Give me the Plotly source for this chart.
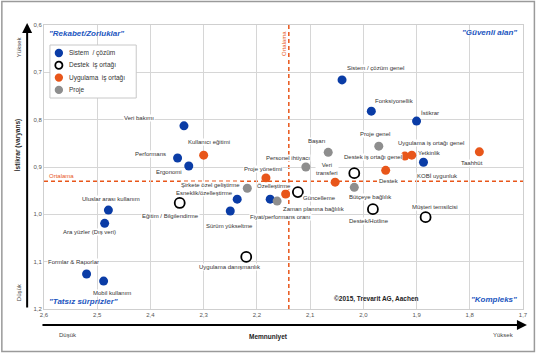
import plotly.graph_objects as go

# ---------------- data ----------------
x_ticks = [2.6, 2.5, 2.4, 2.3, 2.2, 2.1, 2.0, 1.9, 1.8, 1.7]
x_ticktext = ["2,6", "2,5", "2,4", "2,3", "2,2", "2,1", "2,0", "1,9", "1,8", "1,7"]
y_ticks = [0.6, 0.7, 0.8, 0.9, 1.0, 1.1, 1.2]
y_ticktext = ["0,6", "0,7", "0,8", "0,9", "1,0", "1,1", "1,2"]

sistem_names = ["Sistem / çözüm genel", "Fonksiyonellik", "İstikrar", "KOBİ uygunluk",
                "Veri bakımı", "Performans", "Ergonomi", "Uluslar arası kullanım",
                "Ara yüzler (Dış veri)", "Formlar & Raporlar", "Mobil kullanım",
                "Esneklik/özelleştirme", "Sürüm yükseltme", "Fiyat/performans oranı"]
sistem_x = [2.04, 1.985, 1.90, 1.887, 2.337, 2.349, 2.328, 2.479, 2.486, 2.52, 2.488, 2.237, 2.25, 2.175]
sistem_y = [0.716, 0.782, 0.803, 0.89, 0.813, 0.881, 0.898, 0.991, 1.019, 1.126, 1.141, 0.968, 0.993, 0.968]

uyg_names = ["Kullanıcı eğitimi", "Proje yönetimi", "Özelleştirme", "Veri<br>transferi",
             "Destek", "Uygulama iş ortağı genel", "Yetkinlik", "Taahhüt"]
uyg_x = [2.30, 2.183, 2.146, 2.053, 1.958, 1.922, 1.909, 1.782]
uyg_y = [0.875, 0.923, 0.957, 0.932, 0.907, 0.877, 0.875, 0.868]

proje_names = ["Başarı", "Personel ihtiyacı", "Proje genel", "Şirkete özel geliştirme",
               "Zaman planına bağlılık", "Bütçeye bağlılık"]
proje_x = [2.066, 2.108, 1.971, 2.218, 2.162, 2.017]
proje_y = [0.869, 0.90, 0.856, 0.945, 0.972, 0.943]

destek_names = ["Eğitim / Bilgilendirme", "Güncelleme", "Destek iş ortağı genel",
                "Destek/Hotline", "Müşteri temsilcisi", "Uygulama danışmanlık"]
destek_x = [2.345, 2.123, 2.017, 1.982, 1.883, 2.22]
destek_y = [0.976, 0.953, 0.913, 0.989, 1.006, 1.09]

avg_x = 2.14
avg_y = 0.93

legend_names = ["Sistem  / çözüm", "Destek  iş ortağı", "Uygulama  iş ortağı", "Proje"]

# ---------------- styles / label offsets (pixels: dx right, dy down) ----------------
label_offsets = {
    "Sistem / çözüm genel": (33, -12), "Fonksiyonellik": (23, -10), "İstikrar": (13, -8),
    "KOBİ uygunluk": (14, 14), "Veri bakımı": (-45, -8), "Performans": (-27, -4),
    "Ergonomi": (-20, 6), "Uluslar arası kullanım": (3, -11), "Ara yüzler (Dış veri)": (-15, 9),
    "Formlar & Raporlar": (-13, -12), "Mobil kullanım": (8, 12), "Esneklik/özelleştirme": (-33, -6),
    "Sürüm yükseltme": (-1, 15), "Fiyat/performans oranı": (10, 18),
    "Kullanıcı eğitimi": (5, -13), "Proje yönetimi": (-3, -9), "Özelleştirme": (-12, -8),
    "Veri<br>transferi": (-8, -13), "Destek": (3, 11), "Uygulama iş ortağı genel": (26, -13),
    "Yetkinlik": (18, -2), "Taahhüt": (-7, 11),
    "Başarı": (-11, -11), "Personel ihtiyacı": (-18, -9), "Proje genel": (-4, -12),
    "Şirkete özel geliştirme": (-37, -3), "Zaman planına bağlılık": (37, 8),
    "Bütçeye bağlılık": (16, 10),
    "Eğitim / Bilgilendirme": (-9, 13), "Güncelleme": (22, 6), "Destek iş ortağı genel": (19, -16),
    "Destek/Hotline": (-4, 12), "Müşteri temsilcisi": (9, -10), "Uygulama danışmanlık": (-16, 10),
}

BLUE = "#0a3ca6"
ORANGE = "#e8561a"
GRAY = "#8e8e8e"
QBLUE = "#2155c0"
FONT = "Liberation Sans, Arial, sans-serif"

W, H = 540, 353
L, R, T, B = 44, 13, 25, 44
PW, PH = W - L - R, H - T - B


def pp(xp, yp):
    return (xp - L) / PW, (H - B - yp) / PH


fig = go.Figure()

fig.add_trace(go.Scatter(x=sistem_x, y=sistem_y, mode="markers", name="Sistem / çözüm",
                         marker=dict(size=9, color=BLUE), showlegend=False))
fig.add_trace(go.Scatter(x=destek_x, y=destek_y, mode="markers", name="Destek iş ortağı",
                         marker=dict(size=10, color="white", line=dict(color="black", width=1.8)),
                         showlegend=False))
fig.add_trace(go.Scatter(x=uyg_x, y=uyg_y, mode="markers", name="Uygulama iş ortağı",
                         marker=dict(size=9, color=ORANGE), showlegend=False))
fig.add_trace(go.Scatter(x=proje_x, y=proje_y, mode="markers", name="Proje",
                         marker=dict(size=9, color=GRAY), showlegend=False))

annotations = []
for names, xs, ys in [(sistem_names, sistem_x, sistem_y), (uyg_names, uyg_x, uyg_y),
                      (proje_names, proje_x, proje_y), (destek_names, destek_x, destek_y)]:
    for n, xv, yv in zip(names, xs, ys):
        dx, dy = label_offsets[n]
        annotations.append(dict(x=xv, y=yv, xref="x", yref="y", text=n, showarrow=False,
                                xshift=dx, yshift=-dy, bgcolor="white", borderpad=0,
                                font=dict(size=6, color="#333333", family=FONT)))


def txt(xp, yp, text, size=6, color="#333333", angle=0, bold=False, italic=False, xanchor="center"):
    x, y = pp(xp, yp)
    t = text
    if bold:
        t = "<b>" + t + "</b>"
    if italic:
        t = "<i>" + t + "</i>"
    annotations.append(dict(x=x, y=y, xref="paper", yref="paper", text=t, showarrow=False,
                            textangle=angle, xanchor=xanchor, yanchor="middle",
                            font=dict(size=size, color=color, family=FONT)))


# quadrant labels
txt(87, 34, "\"Rekabet/Zorluklar\"", size=8, color=QBLUE, bold=True, italic=True)
txt(493, 33, "\"Güvenli alan\"", size=8, color=QBLUE, bold=True, italic=True)
txt(84, 301, "\"Tatsız sürprizler\"", size=8, color=QBLUE, bold=True, italic=True)
txt(498, 299, "\"Kompleks\"", size=8, color=QBLUE, bold=True, italic=True)
txt(379, 299, "©2015, Trevarit AG, Aachen", size=6.5, color="#222222", bold=True)

# axis texts
txt(18, 145, "İstikrar (varyans)", size=6.5, color="#222222", angle=-90, bold=True)
txt(19, 47, "Yüksek", size=6, color="#444444", angle=-90)
txt(19, 292, "Düşük", size=6, color="#444444", angle=-90)
txt(270, 337, "Memnuniyet", size=6.5, color="#222222", bold=True)
txt(68, 335, "Düşük", size=6, color="#444444")
txt(507, 335, "Yüksek", size=6, color="#444444")

# Ortalama labels
txt(286, 43, "Ortalama", size=6, color=ORANGE, angle=-90)
txt(47, 176, "Ortalama", size=6, color=ORANGE, xanchor="left")

# axis arrows
hx, hy = pp(27, 23)
annotations.append(dict(x=hx, y=hy, xref="paper", yref="paper", text="", showarrow=True,
                        ax=0, ay=286, arrowhead=2, arrowsize=1, arrowwidth=2,
                        arrowcolor="black", standoff=0))
hx, hy = pp(531, 325)
annotations.append(dict(x=hx, y=hy, xref="paper", yref="paper", text="", showarrow=True,
                        ax=-486, ay=0, arrowhead=2, arrowsize=1, arrowwidth=2,
                        arrowcolor="black", standoff=0))

shapes = []
# average lines
shapes.append(dict(type="line", xref="x", yref="paper", x0=avg_x, x1=avg_x, y0=0, y1=1,
                   line=dict(color=ORANGE, width=1.5, dash="4px,3px"), layer="below"))
shapes.append(dict(type="line", xref="paper", yref="y", x0=0, x1=1, y0=avg_y, y1=avg_y,
                   line=dict(color=ORANGE, width=1.5, dash="4px,3px"), layer="below"))

# outer border
x0, y0 = pp(1.5, 351.5)
x1, y1 = pp(538.5, 1.5)
shapes.append(dict(type="rect", xref="paper", yref="paper", x0=x0, y0=y0, x1=x1, y1=y1,
                   line=dict(color="#9a9a9a", width=1.5), fillcolor="rgba(0,0,0,0)"))

# custom legend
x0, y0 = pp(50, 98)
x1, y1 = pp(137, 45)
shapes.append(dict(type="rect", xref="paper", yref="paper", x0=x0, y0=y0, x1=x1, y1=y1,
                   line=dict(color="#c8c8c8", width=1), fillcolor="white"))
leg_styles = [(BLUE, BLUE, 0), ("white", "black", 1.8), (ORANGE, ORANGE, 0), (GRAY, GRAY, 0)]
for i, (name, (fc, lc, lw)) in enumerate(zip(legend_names, leg_styles)):
    yp = 53 + i * 12.3
    cx, cy = pp(59, yp)
    r = 4.2 if lw == 0 else 3.6
    shapes.append(dict(type="circle", xref="paper", yref="paper",
                       x0=cx - r / PW, x1=cx + r / PW, y0=cy - r / PH, y1=cy + r / PH,
                       fillcolor=fc, line=dict(color=lc, width=lw if lw else 0)))
    txt(67, yp, name, size=6.5, color="#333333", xanchor="left")

fig.update_layout(
    width=W, height=H,
    margin=dict(l=L, r=R, t=T, b=B),
    paper_bgcolor="white", plot_bgcolor="white",
    font=dict(family=FONT, size=6, color="#555555"),
    showlegend=False,
    xaxis=dict(range=[2.6, 1.7], tickvals=x_ticks, ticktext=x_ticktext, showgrid=True,
               gridcolor="#d6d6d6", gridwidth=1, zeroline=False, showline=True, mirror=True,
               linecolor="#cfcfcf", linewidth=1, ticks="", tickfont=dict(size=6, color="#555555")),
    yaxis=dict(range=[1.2, 0.6], tickvals=y_ticks, ticktext=y_ticktext, showgrid=True,
               gridcolor="#d6d6d6", gridwidth=1, zeroline=False, showline=True, mirror=True,
               linecolor="#cfcfcf", linewidth=1, ticks="", tickfont=dict(size=6, color="#555555")),
    annotations=annotations,
    shapes=shapes,
)

fig.write_html("out.html")
